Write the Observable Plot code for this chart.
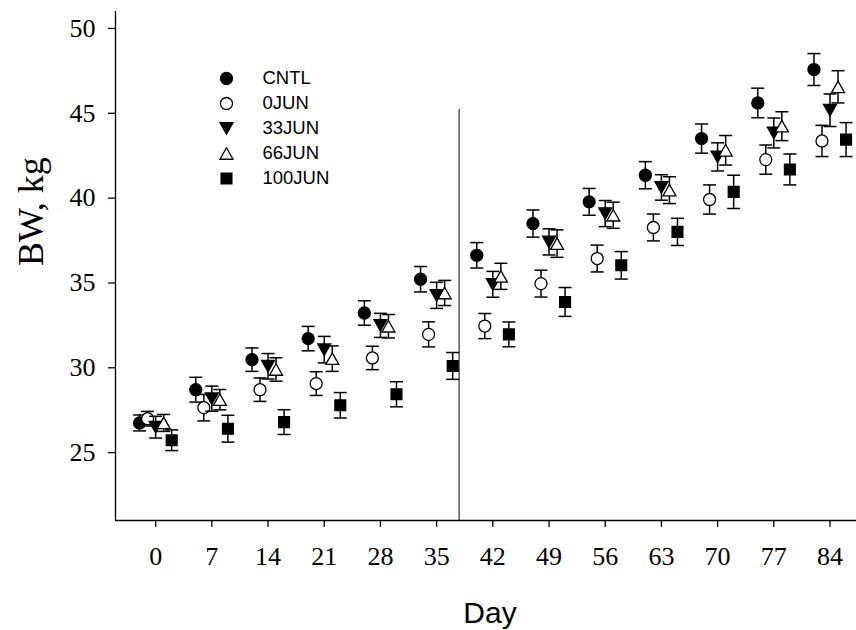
<!DOCTYPE html>
<html>
<head>
<meta charset="utf-8">
<script src="https://cdn.jsdelivr.net/npm/d3@7"></script>
<script src="https://cdn.jsdelivr.net/npm/@observablehq/plot@0.6"></script>
<style>
  html, body { margin: 0; padding: 0; background: #fff; }
  #chart { width: 856px; height: 630px; }
</style>
</head>
<body>
<div id="chart"></div>
<script>
// ---- data ----
const days = [0, 7, 14, 21, 28, 35, 42, 49, 56, 63, 70, 77, 84];
const seriesNames = ["CNTL", "0JUN", "33JUN", "66JUN", "100JUN"];
const cntl   = [26.75, 28.71, 30.48, 31.72, 33.23, 35.22, 36.63, 38.50, 39.78, 41.35, 43.51, 45.61, 47.58];
const cntlSE = [0.47, 0.73, 0.69, 0.72, 0.72, 0.75, 0.75, 0.80, 0.79, 0.80, 0.86, 0.87, 0.94];
const jun0   = [27.00, 27.65, 28.71, 29.07, 30.58, 31.97, 32.46, 34.96, 36.44, 38.27, 39.92, 42.27, 43.37];
const jun0SE = [0.43, 0.78, 0.69, 0.70, 0.69, 0.74, 0.74, 0.79, 0.79, 0.79, 0.86, 0.86, 0.92];
const jun33   = [26.50, 28.18, 30.09, 31.07, 32.50, 34.27, 34.92, 37.42, 39.09, 40.63, 42.43, 43.84, 45.18];
const jun33SE = [0.64, 0.74, 0.75, 0.78, 0.71, 0.77, 0.76, 0.77, 0.77, 0.75, 0.83, 0.88, 0.96];
const jun66   = [26.75, 28.12, 29.90, 30.54, 32.45, 34.41, 35.39, 37.32, 38.99, 40.47, 42.82, 44.24, 46.56];
const jun66SE = [0.50, 0.60, 0.69, 0.75, 0.69, 0.74, 0.77, 0.81, 0.77, 0.79, 0.87, 0.85, 0.95];
const jun100   = [25.73, 26.41, 26.80, 27.79, 28.44, 30.11, 31.97, 33.88, 36.04, 38.01, 40.37, 41.69, 43.45];
const jun100SE = [0.61, 0.79, 0.73, 0.75, 0.74, 0.79, 0.73, 0.85, 0.81, 0.80, 0.98, 0.91, 1.00];
const yTicks = [25, 30, 35, 40, 45, 50];
const splitDay = [37.8];      // vertical divider
const splitTop = 45.22;
const xTitle = "Day";
const yTitle = "BW, kg";

// ---- layout / style ----
const dayOffsets = [-2, -1, 0, 1, 2];
const xDomain = [-5, 87.3];
const yDomain = [21, 51];

function triSym(down) {
  return { draw(ctx) {
    const w = 6.5, h = 11.5, s = down ? 1 : -1;
    ctx.moveTo(-w, -s * h / 2);
    ctx.lineTo(w, -s * h / 2);
    ctx.lineTo(0, s * h / 2);
    ctx.closePath();
  }};
}
const circleSym = { draw(ctx) { const r = 6; ctx.moveTo(r, 0); ctx.arc(0, 0, r, 0, 2 * Math.PI); ctx.closePath(); } };
const squareSym = { draw(ctx) { const a = 5.4; ctx.rect(-a, -a, 2 * a, 2 * a); } };
const capSym = { draw(ctx) { ctx.moveTo(-6.5, 0); ctx.lineTo(6.5, 0); } };

const styles = [
  { symbol: circleSym, fill: "black" },
  { symbol: circleSym, fill: "white" },
  { symbol: triSym(true), fill: "black" },
  { symbol: triSym(false), fill: "white" },
  { symbol: squareSym, fill: "black" }
];

const values = [cntl, jun0, jun33, jun66, jun100];
const ses = [cntlSE, jun0SE, jun33SE, jun66SE, jun100SE];

const marks = [];
// divider line
marks.push(Plot.ruleX(splitDay, { y1: yDomain[0], y2: splitTop, stroke: "black", strokeWidth: 1 }));

seriesNames.forEach((name, i) => {
  const rows = days.map((d, j) => ({ series: name, day: d, x: d + dayOffsets[i], bw: values[i][j], se: ses[i][j] }));
  marks.push(Plot.ruleX(rows, { x: "x", y1: d => d.bw - d.se, y2: d => d.bw + d.se, stroke: "black", strokeWidth: 1.5 }));
  marks.push(Plot.dot(rows, { x: "x", y: d => d.bw + d.se, symbol: capSym, fill: "none", stroke: "black", strokeWidth: 1.5 }));
  marks.push(Plot.dot(rows, { x: "x", y: d => d.bw - d.se, symbol: capSym, fill: "none", stroke: "black", strokeWidth: 1.5 }));
  marks.push(Plot.dot(rows, { x: "x", y: "bw", symbol: styles[i].symbol, fill: styles[i].fill, stroke: "black", strokeWidth: 1.3 }));
  // legend
  marks.push(Plot.dot([name], { frameAnchor: "top-left", dx: 111, dy: 67 + 25 * i, symbol: styles[i].symbol, fill: styles[i].fill, stroke: "black", strokeWidth: 1.3 }));
  marks.push(Plot.text([name], { frameAnchor: "top-left", dx: 147, dy: 67 + 25 * i, text: d => d, textAnchor: "start", lineAnchor: "middle", fontFamily: "Liberation Sans, Arial, sans-serif", fontSize: 18.5, fill: "black" }));
});

// axis lines
marks.push(Plot.ruleX([xDomain[0]], { stroke: "black", strokeWidth: 1.3 }));
marks.push(Plot.ruleY([yDomain[0]], { stroke: "black", strokeWidth: 1.3 }));

marks.push(Plot.axisX({ ticks: days, tickSize: 7, tickPadding: 19, label: null, strokeWidth: 1.3, fontSize: 26, fontFamily: "Liberation Serif, Times New Roman, serif" }));
marks.push(Plot.axisY({ ticks: yTicks, tickSize: 7, tickPadding: 13, label: null, strokeWidth: 1.3, fontSize: 26, fontFamily: "Liberation Serif, Times New Roman, serif" }));

// titles
marks.push(Plot.text([xTitle], { frameAnchor: "bottom", dx: 4, dy: 93, text: d => d, lineAnchor: "middle", fontFamily: "Liberation Sans, Arial, sans-serif", fontSize: 30, fill: "black" }));
marks.push(Plot.text([yTitle], { frameAnchor: "left", dx: -84, text: d => d, rotate: -90, lineAnchor: "middle", fontFamily: "Liberation Serif, Times New Roman, serif", fontSize: 36, fill: "black" }));

const chart = Plot.plot({
  width: 856,
  height: 630,
  marginLeft: 115,
  marginRight: 0,
  marginTop: 11,
  marginBottom: 110,
  x: { domain: xDomain },
  y: { domain: yDomain },
  style: { background: "white", color: "black", fontFamily: "Liberation Serif, serif", overflow: "visible" },
  marks
});
document.getElementById("chart").appendChild(chart);
</script>
</body>
</html>
